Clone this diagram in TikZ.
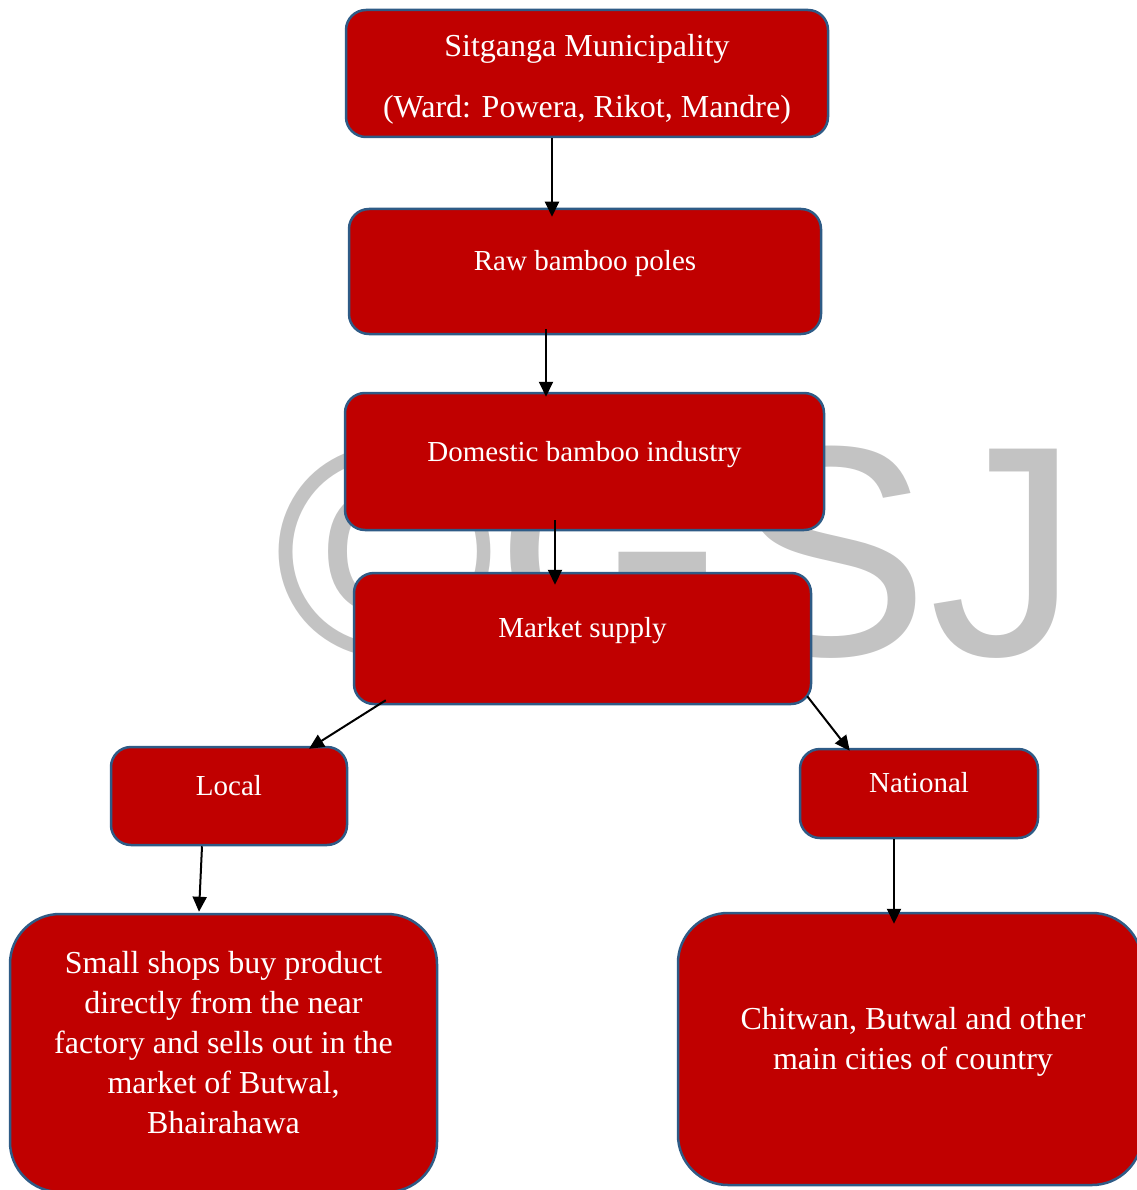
\documentclass[tikz,border=0pt]{standalone}
\usepackage{fontspec}
\setmainfont{Liberation Serif}
\newfontfamily\wmfont{Liberation Sans}
\usepackage{tikz}
\usetikzlibrary{arrows.meta,positioning,calc}
\definecolor{boxred}{HTML}{C00000}
\definecolor{edgeblue}{HTML}{2E5B86}
\definecolor{wmgray}{HTML}{C3C3C3}

\begin{document}
\begin{tikzpicture}[x=1pt,y=-1pt,
    box/.style={draw=edgeblue,fill=boxred,line width=2.5pt,rounded corners=20pt,inner sep=0pt},
    bigbox/.style={box,rounded corners=50pt},
    txt/.style={text=white,inner sep=0pt,anchor=base,align=center,font=\fontsize{29}{40}\selectfont},
    bigtxt/.style={txt,font=\fontsize{32}{40}\selectfont},
    arr/.style={line width=2pt,-{Triangle[length=15pt,width=14pt]}}]
  \useasboundingbox (0,0) rectangle (1136,1190);
  % watermark
  \node[text=wmgray,inner sep=0pt,anchor=base,font=\wmfont\fontsize{300}{300}\selectfont] (gsj) at (677,655) {©GSJ};
  % boxes
  \node[box,minimum width=482pt,minimum height=127pt] (muni) at (587,73.5) {};
  \node[box,minimum width=472pt,minimum height=125pt] (raw) at (585,271.5) {};
  \node[box,minimum width=479pt,minimum height=137pt] (dom) at (584.5,461.5) {};
  \node[box,minimum width=457pt,minimum height=131pt] (mkt) at (582.5,638.5) {};
  \node[box,minimum width=236pt,minimum height=98pt] (local) at (229,796) {};
  \node[box,minimum width=238pt,minimum height=89pt] (nat) at (919,793.5) {};
  \node[bigbox,minimum width=427pt,minimum height=278pt] (small) at (223.5,1053) {};
  \node[bigbox,minimum width=464pt,minimum height=272pt] (chit) at (910,1049) {};
  % texts (base = last line)
  \node[bigtxt] (muni-t1) at (587,57) {Sitganga Municipality};
  \node[bigtxt] (muni-t2) at (587,118) {(Ward: Powera, Rikot, Mandre)};
  \node[txt] (raw-t) at (585,270) {Raw bamboo poles};
  \node[txt] (dom-t) at (584.5,461) {Domestic bamboo industry};
  \node[txt] (mkt-t) at (582.5,637) {Market supply};
  \node[txt] (local-t) at (229,795) {Local};
  \node[txt] (nat-t) at (919,792) {National};
  \node[bigtxt] (small-t) at (223.5,1133) {Small shops buy product\\directly from the near\\factory and sells out in the\\market of Butwal,\\Bhairahawa};
  \node[bigtxt] (chit-t) at (913,1069) {Chitwan, Butwal and other\\main cities of country};
  % arrows
  \draw[arr] ([xshift=-35pt]muni.south) -- ([xshift=-33pt,yshift=-9pt]raw.north);
  \draw[arr] ([xshift=-39pt,yshift=6pt]raw.south) -- ([xshift=-38.5pt,yshift=-5pt]dom.north);
  \draw[arr] ([xshift=-29.5pt,yshift=11pt]dom.south) -- ([xshift=-27.5pt,yshift=-13pt]mkt.north);
  \draw[arr] ([xshift=33pt,yshift=5pt]mkt.south west) -- ([xshift=80pt,yshift=-3pt]local.north);
  \draw[arr] ([xshift=-5pt,yshift=9pt]mkt.south east) -- ([xshift=51pt,yshift=-3pt]nat.north west);
  \draw[arr] ([xshift=-27pt]local.south) -- ([xshift=-24.5pt,yshift=1pt]small.north);
  \draw[arr] ([xshift=-25pt]nat.south) -- ([xshift=-16pt,yshift=-12pt]chit.north);
\end{tikzpicture}
\end{document}
